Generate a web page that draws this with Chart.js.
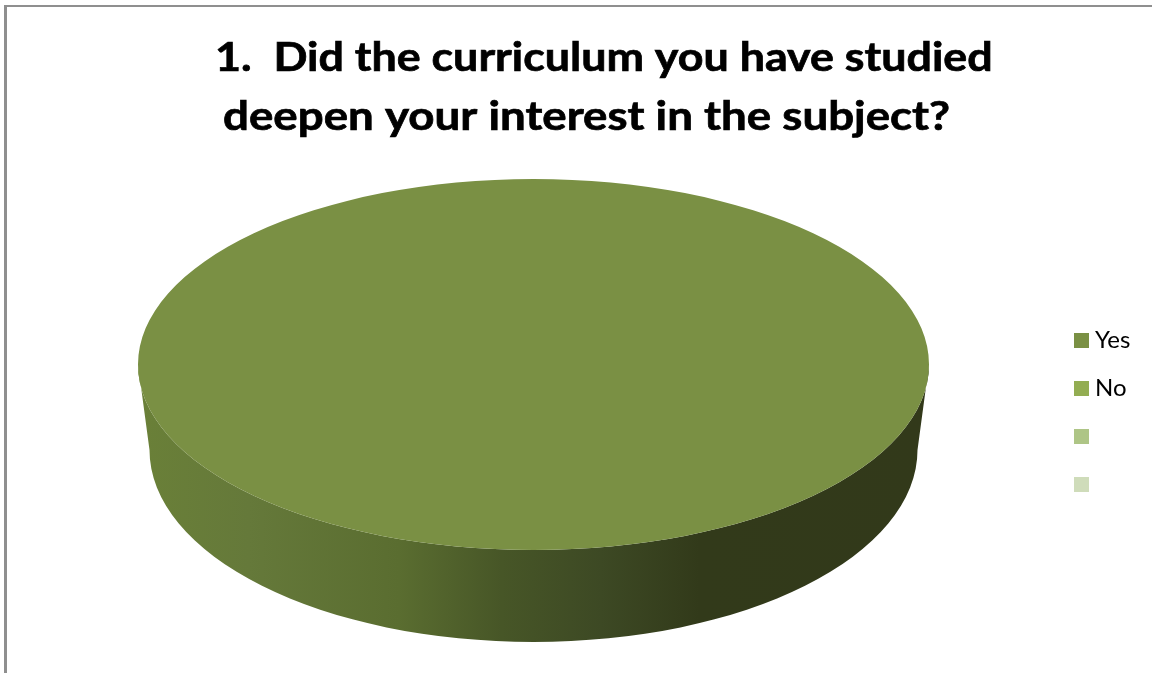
<!DOCTYPE html>
<html>
<head>
<meta charset="utf-8">
<title>Curriculum survey</title>
<script src="https://cdn.jsdelivr.net/npm/chart.js@4"></script>
<style>
    html, body { margin: 0; padding: 0; background: #fff; overflow: hidden; }
    #wrap { position: relative; width: 1152px; height: 673px; }
    #frame { position: absolute; left: 4px; top: 5px; right: 0; bottom: 0; border-left: 3px solid #8f8f8f; border-top: 2px solid #8f8f8f; }
    #pie3d { position: absolute; left: 0; top: 0; }
    #legend { position: absolute; left: 1074px; top: 316px; margin: 0; padding: 0; list-style: none; font: 24px Lato; color: #000; }
    #legend li { display: flex; align-items: center; height: 48px; }
    #legend i { display: block; width: 15px; height: 15px; margin-right: 6px; }
    #legend span { position: relative; top: -2px; }
</style>
</head>
<body>
<div id="wrap">
    <div id="frame"></div>
    <canvas id="pie3d" width="1152" height="673"></canvas>
    <ul id="legend"></ul>
</div>
<script>
const categories = ['Yes', 'No', '', ''];
const seriesValues = [100, 0, 0, 0];
const titleLines = ['1.  Did the curriculum you have studied', 'deepen your interest in the subject?'];

const sliceColors = ['#7a9044', '#93ad52', '#aec586', '#cfdcba'];

// x, baseline y and horizontal stretch for each title line
const titlePlace = [
    { x: 215, y: 71, stretch: 1.12 },
    { x: 223, y: 130, stretch: 1.142 }
];

// the flat circle chart.js lays out gets squashed into this ellipse
const topFace = { x: 533.5, y: 364.5, rx: 395.5, ry: 185.5 };
const bottomFace = { x: 533.5, y: 450, rx: 384, ry: 192 };

const wallStops = [
    [0, '#6a8038'], [0.14, '#65793a'], [0.33, '#5a6d30'], [0.46, '#475627'],
    [0.585, '#3d4924'], [0.71, '#323a1a'], [1, '#32391a']
];

const pie3d = {
    id: 'pie3d',
    beforeDatasetsDraw(chart) {
        const ctx = chart.ctx;
        const grad = ctx.createLinearGradient(topFace.x - topFace.rx, 0, topFace.x + topFace.rx, 0);
        wallStops.forEach(s => grad.addColorStop(s[0], s[1]));
        // side wall: lower half of the bottom ellipse joined to the top one
        ctx.save();
        ctx.fillStyle = grad;
        ctx.beginPath();
        ctx.ellipse(topFace.x, topFace.y, topFace.rx, topFace.ry, 0, Math.PI, 0, true);
        ctx.lineTo(bottomFace.x + bottomFace.rx, bottomFace.y);
        ctx.ellipse(bottomFace.x, bottomFace.y, bottomFace.rx, bottomFace.ry, 0, 0, Math.PI);
        ctx.closePath();
        ctx.fill();
        ctx.restore();
    },
    beforeDatasetDraw(chart) {
        const arc = chart.getDatasetMeta(0).data[0];
        const ctx = chart.ctx;
        ctx.save();
        ctx.translate(topFace.x, topFace.y);
        ctx.scale(topFace.rx / arc.outerRadius, topFace.ry / arc.outerRadius);
        ctx.translate(-arc.x, -arc.y);
    },
    afterDatasetDraw(chart) {
        chart.ctx.restore();
    },
    afterDraw(chart) {
        const ctx = chart.ctx;
        titleLines.forEach((line, i) => {
            const p = titlePlace[i];
            ctx.save();
            ctx.translate(p.x, p.y);
            ctx.scale(p.stretch, 1);
            ctx.fillStyle = '#000';
            ctx.strokeStyle = '#000';
            ctx.lineWidth = 0.7;
            ctx.font = 'bold 40px Lato';
            ctx.textBaseline = 'alphabetic';
            ctx.fillText(line, 0, 0);
            ctx.strokeText(line, 0, 0);
            ctx.restore();
        });
    }
};

// html legend, the canvas one keeps too wide a gap between box and text
const htmlLegend = {
    id: 'htmlLegend',
    afterUpdate(chart) {
        const ul = document.getElementById('legend');
        ul.innerHTML = '';
        const items = chart.options.plugins.legend.labels.generateLabels(chart);
        items.forEach(item => {
            const li = document.createElement('li');
            const box = document.createElement('i');
            const label = document.createElement('span');
            box.style.background = item.fillStyle;
            label.textContent = item.text;
            li.appendChild(box);
            li.appendChild(label);
            ul.appendChild(li);
        });
    }
};

new Chart(document.getElementById('pie3d').getContext('2d'), {
    type: 'pie',
    data: {
        labels: categories,
        datasets: [{
            data: seriesValues,
            backgroundColor: sliceColors,
            borderWidth: 0
        }]
    },
    options: {
        responsive: false,
        animation: false,
        plugins: {
            tooltip: { enabled: false },
            legend: { display: false }
        }
    },
    plugins: [pie3d, htmlLegend]
});
</script>
</body>
</html>
